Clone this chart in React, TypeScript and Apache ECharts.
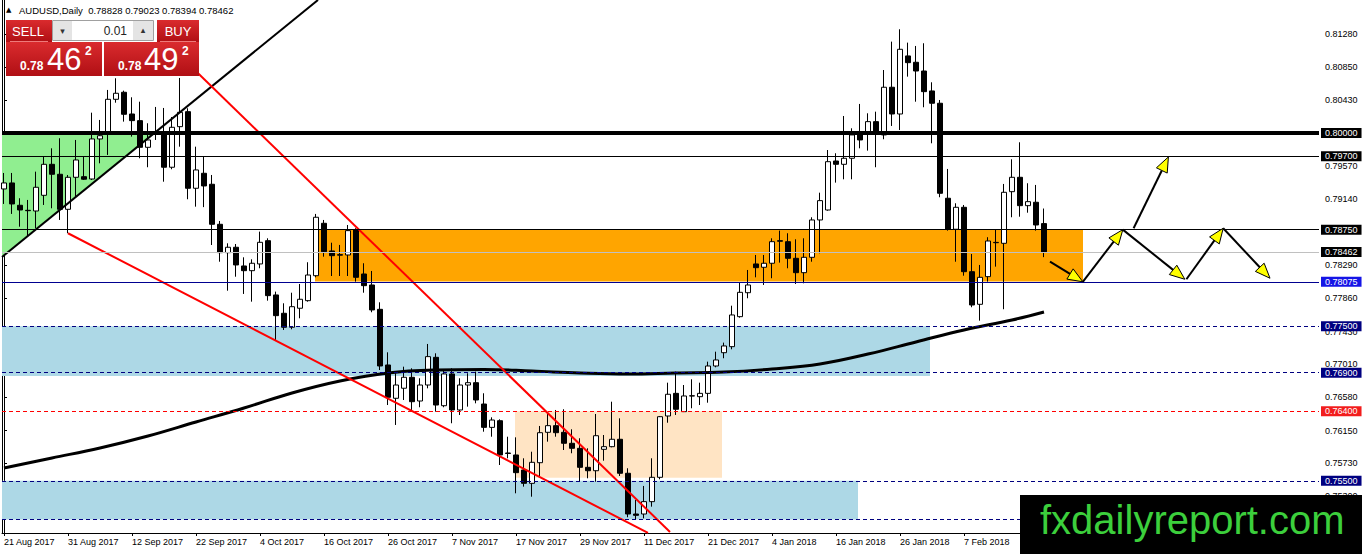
import React, { useEffect, useRef } from "react";
import * as echarts from "echarts";

const FONT = "'Liberation Sans', Arial, sans-serif";

// ---- axis ticks ----
const dateTickBars = [0, 8, 16, 24, 32, 40, 48, 56, 64, 72, 80, 88, 96, 104, 112, 120];
const dateTickLabels = [
  "21 Aug 2017", "31 Aug 2017", "12 Sep 2017", "22 Sep 2017", "4 Oct 2017", "16 Oct 2017",
  "26 Oct 2017", "7 Nov 2017", "17 Nov 2017", "29 Nov 2017", "11 Dec 2017", "21 Dec 2017",
  "4 Jan 2018", "16 Jan 2018", "26 Jan 2018", "7 Feb 2018",
];
const priceTicks = [
  0.8128, 0.8085, 0.8043, 0.7957, 0.7914, 0.7829, 0.7786, 0.7743, 0.7701,
  0.7658, 0.7615, 0.7573, 0.753,
];
const X_MIN = -0.25;
const X_MAX = 164.375;
const Y_MIN = 0.748254;
const Y_MAX = 0.817206;

// ---- daily candles (bar index = position in arrays) ----
const opens = [
  0.79276, 0.79354, 0.79065, 0.79, 0.78991, 0.79194, 0.79595, 0.79466, 0.79013, 0.79427,
  0.79435, 0.79405, 0.79923, 0.80004, 0.80436, 0.80527, 0.80246, 0.8016, 0.79815, 0.79995,
  0.8, 0.79557, 0.80082, 0.80276, 0.79285, 0.79479, 0.79337, 0.78819, 0.78452, 0.78522,
  0.7828, 0.78219, 0.78306, 0.78607, 0.77905, 0.77668, 0.77487, 0.77733, 0.77831, 0.78154,
  0.78832, 0.78474, 0.78426, 0.78422, 0.78746, 0.78176, 0.78034, 0.77719, 0.76999, 0.76568,
  0.76698, 0.7684, 0.76533, 0.7674, 0.77098, 0.76472, 0.76883, 0.76417, 0.7674, 0.7677,
  0.76494, 0.76192, 0.76278, 0.7586, 0.75835, 0.75641, 0.75468, 0.75735, 0.76128, 0.76214,
  0.76128, 0.75986, 0.75921, 0.75675, 0.75631, 0.75908, 0.75942, 0.76038, 0.75598, 0.75071,
  0.75071, 0.75231, 0.75546, 0.76339, 0.76632, 0.76395, 0.766, 0.76589, 0.76632, 0.76986,
  0.77158, 0.77236, 0.77624, 0.77934, 0.78306, 0.78263, 0.78315, 0.78607, 0.78594, 0.78379,
  0.78193, 0.78392, 0.78875, 0.79004, 0.79638, 0.79595, 0.79673, 0.79975, 0.80004, 0.80147,
  0.79975, 0.80592, 0.80246, 0.80997, 0.80915, 0.80802, 0.80544, 0.80385, 0.79156, 0.78755,
  0.79039, 0.78206, 0.77784, 0.78142, 0.78585, 0.78573, 0.79241, 0.79427, 0.7906, 0.79104,
  0.78828,
];
const closes = [
  0.79354, 0.79082, 0.79004, 0.78995, 0.79298, 0.79595, 0.79466, 0.79013, 0.79427, 0.79651,
  0.79402, 0.79923, 0.79965, 0.80436, 0.80514, 0.80242, 0.8016, 0.79815, 0.7991, 0.8001,
  0.79557, 0.80074, 0.80268, 0.79285, 0.79522, 0.79315, 0.78819, 0.78452, 0.78522, 0.78293,
  0.78219, 0.78315, 0.78586, 0.77896, 0.77637, 0.77487, 0.77753, 0.77849, 0.78163, 0.7891,
  0.78465, 0.78413, 0.7842, 0.78737, 0.78133, 0.78025, 0.77711, 0.76986, 0.76581, 0.7674,
  0.7684, 0.76524, 0.7674, 0.77107, 0.76481, 0.76883, 0.76417, 0.7674, 0.7677, 0.76546,
  0.76192, 0.76287, 0.75835, 0.75855, 0.75606, 0.75468, 0.7574, 0.76123, 0.76214, 0.76123,
  0.75986, 0.75921, 0.75675, 0.75631, 0.76084, 0.75942, 0.76038, 0.75598, 0.75071, 0.75054,
  0.75231, 0.75546, 0.7633, 0.7662, 0.76426, 0.76598, 0.76598, 0.76632, 0.76986, 0.77064,
  0.77245, 0.77646, 0.77939, 0.78034, 0.78258, 0.78315, 0.78594, 0.786, 0.78379, 0.78193,
  0.78392, 0.78875, 0.79125, 0.79629, 0.79595, 0.79673, 0.79975, 0.7991, 0.80147, 0.79997,
  0.80592, 0.80246, 0.81083, 0.8091, 0.80802, 0.80535, 0.80385, 0.7922, 0.78758, 0.79039,
  0.78206, 0.77775, 0.78133, 0.78603, 0.78581, 0.79233, 0.79427, 0.7906, 0.79112, 0.7881,
  0.78462,
];
const lows = [
  0.79082, 0.78953, 0.78788, 0.78659, 0.78768, 0.79069, 0.79026, 0.78875, 0.78703, 0.79169,
  0.79392, 0.79392, 0.79608, 0.79716, 0.80392, 0.80147, 0.79953, 0.79673, 0.79557, 0.7991,
  0.7937, 0.79531, 0.79823, 0.79143, 0.79047, 0.79041, 0.78551, 0.78335, 0.7796, 0.78141,
  0.77918, 0.77818, 0.7825, 0.77831, 0.77322, 0.77452, 0.77461, 0.77603, 0.77818, 0.78133,
  0.784, 0.7815, 0.7815, 0.7815, 0.78077, 0.77934, 0.77681, 0.76934, 0.76481, 0.76223,
  0.76546, 0.76417, 0.76452, 0.76697, 0.76395, 0.76452, 0.76245, 0.76352, 0.7646, 0.76503,
  0.76136, 0.76071, 0.75705, 0.75792, 0.75339, 0.75425, 0.75295, 0.75554, 0.76007, 0.76071,
  0.75899, 0.75857, 0.75489, 0.75533, 0.75489, 0.75761, 0.75934, 0.75563, 0.75029, 0.74994,
  0.75015, 0.75166, 0.7552, 0.76252, 0.76352, 0.7639, 0.76439, 0.76481, 0.76511, 0.76969,
  0.77086, 0.77202, 0.77611, 0.77862, 0.78133, 0.78034, 0.78121, 0.78323, 0.7825, 0.78047,
  0.78056, 0.78335, 0.78444, 0.78995, 0.79358, 0.79401, 0.79401, 0.79802, 0.79772, 0.79557,
  0.79919, 0.80091, 0.80039, 0.80729, 0.80405, 0.80333, 0.79867, 0.79169, 0.78737, 0.78335,
  0.78154, 0.77746, 0.77572, 0.78077, 0.78271, 0.7772, 0.7891, 0.78917, 0.78969, 0.78737,
  0.78394,
];
const highs = [
  0.79483, 0.79483, 0.79156, 0.79134, 0.795, 0.79694, 0.79802, 0.79932, 0.79457, 0.7991,
  0.79694, 0.80263, 0.80169, 0.80557, 0.80708, 0.80548, 0.80462, 0.80405, 0.80126, 0.80337,
  0.80324, 0.80207, 0.80712, 0.8032, 0.79823, 0.79694, 0.79457, 0.78862, 0.78573, 0.78564,
  0.78392, 0.78366, 0.78724, 0.78638, 0.77948, 0.77797, 0.77934, 0.78047, 0.78328, 0.78953,
  0.78875, 0.78581, 0.78552, 0.7881, 0.78768, 0.78315, 0.78215, 0.7781, 0.77163, 0.76892,
  0.76977, 0.76956, 0.76827, 0.77271, 0.7715, 0.76934, 0.76956, 0.76827, 0.76892, 0.76913,
  0.76633, 0.76322, 0.76296, 0.76071, 0.76063, 0.75792, 0.75877, 0.7621, 0.76374, 0.76417,
  0.76426, 0.76167, 0.76051, 0.75921, 0.76365, 0.76093, 0.76524, 0.76309, 0.75663, 0.75252,
  0.75434, 0.75792, 0.76339, 0.7677, 0.76913, 0.7674, 0.76814, 0.7677, 0.77042, 0.77171,
  0.77288, 0.77766, 0.78064, 0.78228, 0.78422, 0.78422, 0.78638, 0.78737, 0.78703, 0.78625,
  0.78638, 0.7891, 0.79228, 0.7978, 0.79738, 0.8022, 0.80061, 0.80376, 0.80255, 0.80276,
  0.80815, 0.81182, 0.81342, 0.81169, 0.81126, 0.81161, 0.80656, 0.80427, 0.79535, 0.79091,
  0.79069, 0.78435, 0.78293, 0.78652, 0.78755, 0.79341, 0.7966, 0.7988, 0.7935, 0.79328,
  0.79023,
];
const askPrice = 0.78492;

// ---- long moving average (sampled points) ----
const maBars = [0, 6, 12, 18, 24, 30, 36, 42, 48, 54, 60, 66, 72, 78, 84, 90, 96, 102, 108, 114, 120, 126, 130];
const maValues = [
  0.75667, 0.75796, 0.75925, 0.7608, 0.76262, 0.76443, 0.76637, 0.76792, 0.76896, 0.76934,
  0.76941, 0.76921, 0.76896, 0.76883, 0.76896, 0.76908, 0.76947, 0.77012, 0.77141, 0.77297,
  0.77452, 0.77581, 0.77685,
];

// ---- horizontal levels ----
const levelPrices = [0.8, 0.797, 0.7875, 0.78462, 0.78075, 0.775, 0.769, 0.764, 0.755, 0.75];

// ---- zones (rectangles) ----
const zoneStartBar = [-0.25, -0.25, 63.875, 38.875];
const zoneEndBar = [115.75, 106.75, 89.75, 134.875];
const zoneTop = [0.775, 0.755, 0.764, 0.78745];
const zoneBottom = [0.76857, 0.75, 0.75541, 0.7808];

// ---- triangle ----
const triangleBars = [-0.25, -0.25, 18.9];
const trianglePrices = [0.8, 0.78396, 0.8];

// ---- trend lines ----
const trendFromBar = [-0.25, 24, 8];
const trendFromPrice = [0.78396, 0.80799, 0.78703];
const trendToBar = [39.25, 83.25, 80.5];
const trendToPrice = [0.81721, 0.74839, 0.74826];

// ---- projection arrows ----
const arrowFromBar = [130.75, 134.85, 141.2, 139.85, 147.8, 152.4];
const arrowFromPrice = [0.78335, 0.78075, 0.78768, 0.7875, 0.78108, 0.78768];
const arrowToBar = [134.85, 139.85, 145.55, 147.6, 152.4, 158.25];
const arrowToPrice = [0.78075, 0.7875, 0.7969, 0.78108, 0.78768, 0.78121];

// ---- styles ----
const levelStyles = [
  { color: "#000000", width: 4, type: "solid", bg: "#000000", label: true },
  { color: "#000000", width: 1, type: "solid", bg: "#000000", label: true },
  { color: "#000000", width: 1, type: "solid", bg: "#000000", label: true },
  { color: "#c0c0c0", width: 1, type: "solid", bg: "#000000", label: true },
  { color: "#000090", width: 1, type: "solid", bg: "#1515e6", label: true },
  { color: "#000080", width: 1, type: [4, 3], bg: "#000080", label: true },
  { color: "#000080", width: 1, type: [4, 3], bg: "#000080", label: true },
  { color: "#ff0000", width: 1, type: [4, 3], bg: "#f21d1d", label: true },
  { color: "#000080", width: 1, type: [4, 3], bg: "#000080", label: true },
  { color: "#000080", width: 1, type: [4, 3], bg: "#000080", label: false },
];
const zoneColors = ["#add8e6", "#add8e6", "#ffe4c4", "#ffa500"];
const trendColors = ["#000000", "#ff0000", "#ff0000"];

function splitPrice(p: number) {
  const s = p.toFixed(5);
  return { head: s.slice(0, 4), big: s.slice(4, 6), pip: s.slice(6) };
}

function buildOption() {
  const candles = opens.map((o, i) => [i, o, closes[i], lows[i], highs[i]]);
  const last = opens.length - 1;
  const bid = splitPrice(closes[last]);
  const ask = splitPrice(askPrice);
  const red = {
    type: "linear", x: 0, y: 0, x2: 0, y2: 1,
    colorStops: [{ offset: 0, color: "#da2b2e" }, { offset: 1, color: "#b00f14" }],
  };
  const txt = (x: number, y: number, text: string, size: number, fill: string, opts: any = {}) => ({
    type: "text", x, y, silent: true, z: 100,
    style: {
      text, fill, font: `${opts.bold ? "bold " : ""}${size}px ${opts.family || FONT}`,
      align: opts.align || "left", textAlign: opts.align || "left",
      verticalAlign: "middle", textVerticalAlign: "middle",
    },
  });

  return {
    animation: false,
    backgroundColor: "#ffffff",
    grid: { left: 2, right: 43, top: 0, bottom: 21 },
    xAxis: {
      type: "value", min: X_MIN, max: X_MAX,
      axisLine: { show: true, onZero: false, lineStyle: { color: "#000", width: 1 } },
      axisTick: { show: true, customValues: dateTickBars, length: 3, lineStyle: { color: "#000" } },
      axisLabel: {
        customValues: dateTickBars,
        formatter: (v: number) => {
          const i = dateTickBars.indexOf(Math.round(v));
          return i >= 0 ? dateTickLabels[i] : "";
        },
        align: "left", margin: 4, color: "#000", fontSize: 9, fontFamily: FONT,
      },
      splitLine: { show: false },
    },
    yAxis: [
      {
        type: "value", position: "right", min: Y_MIN, max: Y_MAX,
        axisLine: { show: true, lineStyle: { color: "#000", width: 1 } },
        axisTick: { show: true, customValues: priceTicks, length: 3, lineStyle: { color: "#000" } },
        axisLabel: {
          customValues: priceTicks, formatter: (v: number) => v.toFixed(5),
          margin: 6, color: "#000", fontSize: 9, fontFamily: FONT,
        },
        splitLine: { show: false },
      },
      {
        type: "value", position: "left", min: Y_MIN, max: Y_MAX,
        axisLine: { show: true, lineStyle: { color: "#000", width: 1 } },
        axisTick: { show: false }, axisLabel: { show: false }, splitLine: { show: false },
      },
    ],
    series: [
      {
        type: "custom", z: 1, silent: true,
        data: zoneStartBar.map((b, i) => [b, zoneTop[i], zoneEndBar[i], zoneBottom[i]]),
        renderItem: (params: any, api: any) => {
          const p0 = api.coord([api.value(0), api.value(1)]);
          const p1 = api.coord([api.value(2), api.value(3)]);
          return {
            type: "rect",
            shape: {
              x: Math.min(p0[0], p1[0]), y: Math.min(p0[1], p1[1]),
              width: Math.abs(p1[0] - p0[0]), height: Math.abs(p1[1] - p0[1]),
            },
            style: { fill: zoneColors[params.dataIndex] },
          };
        },
      },
      {
        type: "custom", z: 1, silent: true,
        data: [[triangleBars[0], trianglePrices[0], triangleBars[1], trianglePrices[1], triangleBars[2], trianglePrices[2]]],
        renderItem: (_params: any, api: any) => {
          const pts = [0, 2, 4].map((d) => api.coord([api.value(d), api.value(d + 1)]));
          return { type: "polygon", shape: { points: pts }, style: { fill: "#90ee90" } };
        },
      },
      {
        type: "candlestick", z: 2, silent: true, barWidth: 5,
        data: candles,
        itemStyle: { color: "#ffffff", color0: "#000000", borderColor: "#000000", borderColor0: "#000000", borderWidth: 1 },
      },
      {
        type: "line", z: 3, silent: true, smooth: 0.4, showSymbol: false, symbol: "none",
        data: maBars.map((b, i) => [b, maValues[i]]),
        lineStyle: { color: "#000000", width: 3 },
        markLine: {
          silent: true, symbol: ["none", "none"], animation: false, precision: 5,
          data: levelPrices.map((p, i) => ({
            yAxis: p,
            lineStyle: { color: levelStyles[i].color, width: levelStyles[i].width, type: levelStyles[i].type },
            label: {
              show: levelStyles[i].label, position: "end", distance: 2,
              formatter: () => p.toFixed(5),
              color: "#ffffff", backgroundColor: levelStyles[i].bg,
              padding: [1, 4, 0, 4], fontSize: 9, lineHeight: 9, fontFamily: FONT,
            },
          })),
        },
      },
      {
        type: "custom", z: 4, silent: true,
        data: trendFromBar.map((b, i) => [b, trendFromPrice[i], trendToBar[i], trendToPrice[i]]),
        renderItem: (params: any, api: any) => {
          const a = api.coord([api.value(0), api.value(1)]);
          const b = api.coord([api.value(2), api.value(3)]);
          return {
            type: "line", shape: { x1: a[0], y1: a[1], x2: b[0], y2: b[1] },
            style: { stroke: trendColors[params.dataIndex], lineWidth: 2 },
          };
        },
      },
      {
        type: "custom", z: 6, silent: true,
        data: arrowFromBar.map((b, i) => [b, arrowFromPrice[i], arrowToBar[i], arrowToPrice[i]]),
        renderItem: (_params: any, api: any) => {
          const a = api.coord([api.value(0), api.value(1)]);
          const b = api.coord([api.value(2), api.value(3)]);
          const dx = b[0] - a[0];
          const dy = b[1] - a[1];
          const len = Math.hypot(dx, dy) || 1;
          const ux = dx / len;
          const uy = dy / len;
          const hl = 15;
          const hw = 6;
          const base = [b[0] - ux * hl, b[1] - uy * hl];
          const left = [base[0] - uy * hw, base[1] + ux * hw];
          const right = [base[0] + uy * hw, base[1] - ux * hw];
          return {
            type: "group",
            children: [
              { type: "line", shape: { x1: a[0], y1: a[1], x2: base[0], y2: base[1] }, style: { stroke: "#000", lineWidth: 2 } },
              { type: "polygon", shape: { points: [b, left, right] }, style: { fill: "#ffff00", stroke: "#000", lineWidth: 1 } },
            ],
          };
        },
      },
    ],
    graphic: [
      // header
      txt(6, 10, "\u25B2", 7, "#000", { family: "'DejaVu Sans', sans-serif" }),
      txt(19, 10, `AUDUSD,Daily  ${opens[last].toFixed(5)} ${highs[last].toFixed(5)} ${lows[last].toFixed(5)} ${closes[last].toFixed(5)}`, 9.5, "#000"),
      // SELL block
      { type: "rect", z: 99, silent: true, shape: { x: 6, y: 20, width: 46, height: 22 }, style: { fill: red } },
      { type: "rect", z: 99, silent: true, shape: { x: 6, y: 42, width: 96, height: 34 }, style: { fill: red } },
      { type: "line", z: 100, silent: true, shape: { x1: 10, y1: 41.5, x2: 48, y2: 41.5 }, style: { stroke: "#ee7a7a", lineWidth: 1 } },
      txt(28, 31, "SELL", 13, "#ffffff", { align: "center" }),
      txt(20, 66, bid.head, 12, "#ffffff", { bold: true }),
      txt(47, 59, bid.big, 31, "#ffffff"),
      txt(85, 51, bid.pip, 12, "#ffffff", { bold: true }),
      // lot box
      { type: "rect", z: 99, silent: true, shape: { x: 52.5, y: 20.5, width: 101, height: 20 }, style: { fill: "#ffffff", stroke: "#a0a0a0", lineWidth: 1 } },
      { type: "rect", z: 100, silent: true, shape: { x: 53, y: 21, width: 19, height: 19 }, style: { fill: "#e4e4e4" } },
      { type: "rect", z: 100, silent: true, shape: { x: 133, y: 21, width: 20, height: 19 }, style: { fill: "#e4e4e4" } },
      txt(62.5, 31, "\u25BE", 9, "#333", { align: "center", family: "'DejaVu Sans', sans-serif" }),
      txt(143, 30, "\u25B4", 9, "#333", { align: "center", family: "'DejaVu Sans', sans-serif" }),
      txt(127, 30.5, "0.01", 12, "#222", { align: "right" }),
      // BUY block
      { type: "rect", z: 99, silent: true, shape: { x: 157, y: 20, width: 42, height: 22 }, style: { fill: red } },
      { type: "rect", z: 99, silent: true, shape: { x: 104, y: 42, width: 95, height: 34 }, style: { fill: red } },
      { type: "line", z: 100, silent: true, shape: { x1: 160, y1: 41.5, x2: 196, y2: 41.5 }, style: { stroke: "#ee7a7a", lineWidth: 1 } },
      txt(178, 31, "BUY", 13, "#ffffff", { align: "center" }),
      txt(118, 66, ask.head, 12, "#ffffff", { bold: true }),
      txt(144, 59, ask.big, 31, "#ffffff"),
      txt(182, 51, ask.pip, 12, "#ffffff", { bold: true }),
      // watermark
      { type: "rect", z: 120, silent: true, shape: { x: 1020, y: 495, width: 342, height: 59 }, style: { fill: "#000000" } },
      { type: "text", z: 121, silent: true, x: 1040, y: 520,
        style: { text: "fxdailyreport.com", fill: "#3ccf3c", font: `40px ${FONT}`, align: "left", textAlign: "left", verticalAlign: "middle", textVerticalAlign: "middle" } },
    ],
  };
}

export default function App() {
  const ref = useRef<HTMLDivElement>(null);
  useEffect(() => {
    document.body.style.margin = "0";
    const chart = echarts.init(ref.current as HTMLDivElement, null, { renderer: "svg" });
    chart.setOption(buildOption() as any);
    return () => chart.dispose();
  }, []);
  return <div ref={ref} style={{ width: 1362, height: 554 }} />;
}
